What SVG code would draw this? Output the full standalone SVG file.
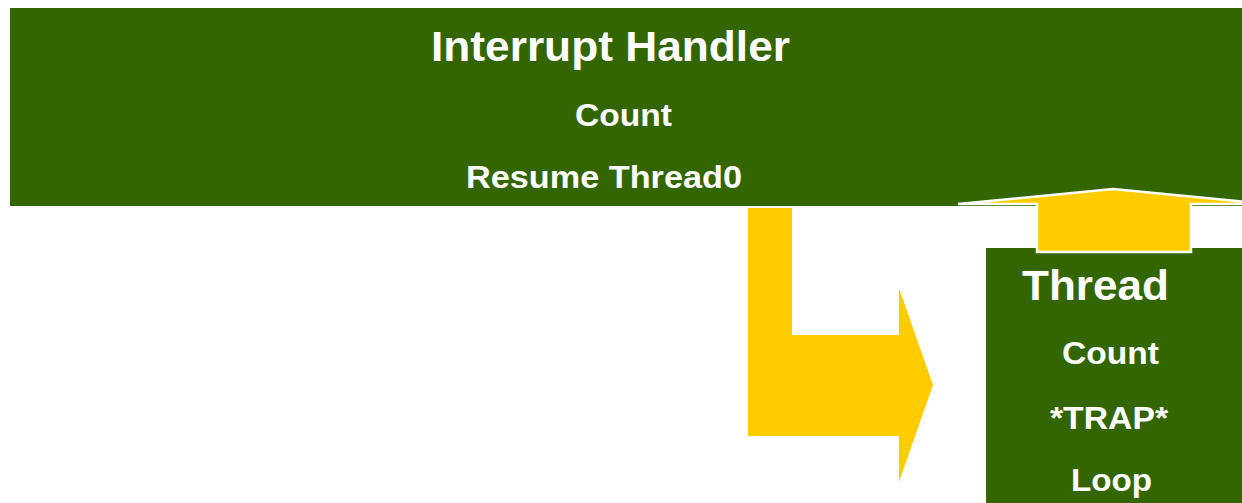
<svg xmlns="http://www.w3.org/2000/svg" width="1242" height="503" viewBox="0 0 1242 503">
  <style>
    .box { fill: #336600; }
    .arrow { fill: #FFCC00; }
    .outlined { stroke: #FFFFFF; stroke-width: 2.5; stroke-linejoin: miter; }
    text { font-family: "Liberation Sans", Arial, sans-serif; font-weight: bold; fill: #FFFFFF; }
    .title { font-size: 42px; }
    .item { font-size: 31px; }
  </style>

  <!-- Interrupt handler block -->
  <g id="interrupt-handler">
    <rect class="box" x="10" y="8" width="1240" height="198"/>
    <text class="title" x="431" y="61" textLength="359" lengthAdjust="spacingAndGlyphs">Interrupt Handler</text>
    <text class="item" x="575" y="126" textLength="97" lengthAdjust="spacingAndGlyphs">Count</text>
    <text class="item" x="466" y="188" textLength="276" lengthAdjust="spacingAndGlyphs">Resume Thread0</text>
  </g>

  <!-- Thread block -->
  <g id="thread">
    <rect class="box" x="986" y="248" width="260" height="260"/>
    <text class="title" x="1022" y="300" textLength="147" lengthAdjust="spacingAndGlyphs">Thread</text>
    <text class="item" x="1062" y="364" textLength="97" lengthAdjust="spacingAndGlyphs">Count</text>
    <text class="item" x="1050" y="429" textLength="118" lengthAdjust="spacingAndGlyphs">*TRAP*</text>
    <text class="item" x="1071" y="491" textLength="81" lengthAdjust="spacingAndGlyphs">Loop</text>
  </g>

  <!-- Block arrows between handler and thread -->
  <g id="connectors">
    <polygon class="arrow" points="748,208 792,208 792,335 899,335 899,288 933,385 899,482 899,436 748,436"/>
    <polygon class="arrow outlined" points="1037,252 1037,204 958,204 1113,189 1268,204 1191,204 1191,252"/>
  </g>
</svg>
